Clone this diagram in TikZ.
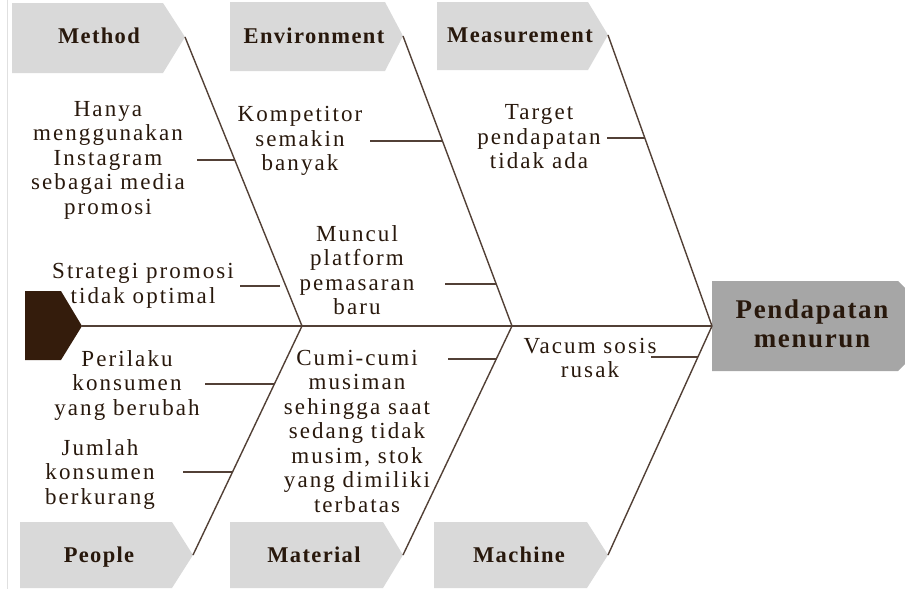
\documentclass[tikz,border=0pt]{standalone}
\usepackage{fontspec}
\setmainfont{Liberation Serif}
\newfontfamily\causefont[LetterSpace=9]{Liberation Serif}
\newfontfamily\catfont[LetterSpace=6]{Liberation Serif}
\definecolor{boxgray}{RGB}{217,217,217}
\definecolor{headgray}{RGB}{166,166,166}
\definecolor{tailbrown}{RGB}{52,28,12}
\definecolor{bonebrown}{RGB}{82,64,54}
\definecolor{inkbrown}{RGB}{40,24,12}
\tikzset{
	bone/.style = {draw=bonebrown, line width=1.4pt},
	cause/.style = {align=center, inner sep=0pt, text=inkbrown,
		font=\causefont\fontsize{23}{24.5}\selectfont},
	cat/.style = {anchor=base, inner sep=0pt, text=inkbrown,
		font=\catfont\bfseries\fontsize{22.5}{26}\selectfont},
}
\begin{document}
\begin{tikzpicture}[x=1pt, y=-1pt]
	\useasboundingbox (0,0) rectangle (905,589);
	\clip (0,0) rectangle (905,589);
	%
	\draw[black!12, line width=0.8pt] (7,0)--(7,589);
	%
	% category boxes, tips where the bones start
	\coordinate (method-tip) at (185,37);
	\coordinate (env-tip) at (403,36);
	\coordinate (meas-tip) at (608,35);
	\coordinate (people-tip) at (193,555);
	\coordinate (material-tip) at (403,555);
	\coordinate (machine-tip) at (608,555);
	\fill[boxgray] (12,3)--(163,3)--(method-tip)--(163,73)--(12,73)--cycle;
	\fill[boxgray] (230,2)--(385,2)--(env-tip)--(385,71)--(230,71)--cycle;
	\fill[boxgray] (437,2)--(588,2)--(meas-tip)--(588,70)--(437,70)--cycle;
	\fill[boxgray] (20,522)--(172,522)--(people-tip)--(172,588)--(20,588)--cycle;
	\fill[boxgray] (230,522)--(383,522)--(material-tip)--(383,588)--(230,588)--cycle;
	\fill[boxgray] (434,522)--(587,522)--(machine-tip)--(587,588)--(434,588)--cycle;
	%
	\node[cat] (method) at (99,43.5) {Method};
	\node[cat] (env) at (314,43) {Environment};
	\node[cat] (meas) at (520,42) {Measurement};
	\node[cat] (people) at (99,562) {People};
	\node[cat] (material) at (314,562.5) {Material};
	\node[cat] (machine) at (519,562.5) {Machine};
	%
	% tail and head of the fish
	\coordinate (tail-tip) at (82,326);
	\coordinate (head-left) at (712,326);
	\fill[tailbrown] (25,291)--(61,291)--(tail-tip)--(61,360)--(25,360)--cycle;
	\fill[headgray] (712,281)--(898,281)--(943,326)--(898,371)--(712,371)--cycle;
	\node[inner sep=0pt, align=center, text=inkbrown,
		font=\catfont\bfseries\fontsize{27}{29}\selectfont] (effect) at (812,324)
		{Pendapatan\\menurun};
	%
	% spine and bones
	\coordinate (root1) at (302,326);
	\coordinate (root2) at (512,326);
	\draw[bone] (tail-tip)--(head-left);
	\draw[bone] (method-tip)--(root1);
	\draw[bone] (env-tip)--(root2);
	\draw[bone] (meas-tip)--(head-left);
	\draw[bone] (people-tip)--(root1);
	\draw[bone] (material-tip)--(root2);
	\draw[bone] (machine-tip)--(head-left);
	%
	% causes
	\node[cause] (hanya) at (108,160) {Hanya\\menggunakan\\Instagram\\sebagai media\\promosi};
	\node[cause] (strategi) at (143,286) {Strategi promosi\\tidak optimal};
	\node[cause] (kompetitor) at (300,141) {Kompetitor\\semakin\\banyak};
	\node[cause] (muncul) at (357,270) {Muncul\\platform\\pemasaran\\baru};
	\node[cause] (target) at (539,137) {Target\\pendapatan\\tidak ada};
	\node[cause] (perilaku) at (127,385) {Perilaku\\konsumen\\yang berubah};
	\node[cause] (jumlah) at (100,474) {Jumlah\\konsumen\\berkurang};
	\node[cause] (cumi) at (357,431) {Cumi-cumi\\musiman\\sehingga saat\\sedang tidak\\musim, stok\\yang dimiliki\\terbatas};
	\node[cause] (vacum) at (590,358) {Vacum sosis\\rusak};
	%
	% small bones
	\coordinate (hanya-a) at (197,160);   \coordinate (hanya-b) at (235,160);
	\coordinate (strategi-a) at (240,286); \coordinate (strategi-b) at (280,286);
	\coordinate (kompetitor-a) at (370,141); \coordinate (kompetitor-b) at (442,141);
	\coordinate (muncul-a) at (445,284);  \coordinate (muncul-b) at (496,284);
	\coordinate (target-a) at (607,138);  \coordinate (target-b) at (645,138);
	\coordinate (perilaku-a) at (205,384); \coordinate (perilaku-b) at (275,384);
	\coordinate (jumlah-a) at (183,472);  \coordinate (jumlah-b) at (233,472);
	\coordinate (cumi-a) at (448,359);    \coordinate (cumi-b) at (497,359);
	\coordinate (vacum-a) at (651,357);   \coordinate (vacum-b) at (698,357);
	\foreach \c in {hanya,strategi,kompetitor,muncul,target,perilaku,jumlah,cumi,vacum}
		\draw[bone] (\c-a)--(\c-b);
	%
\end{tikzpicture}
\end{document}
